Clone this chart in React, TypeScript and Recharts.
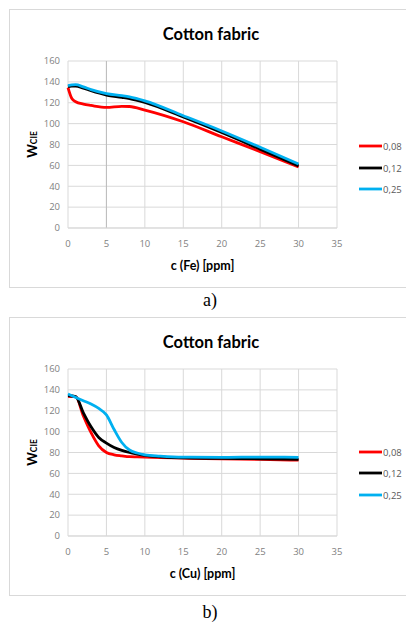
import React from 'react';
import { LineChart, Line, XAxis, YAxis, CartesianGrid, ReferenceLine, Customized } from 'recharts';

const chartTitle = 'Cotton fabric';
const xTicks = [0, 5, 10, 15, 20, 25, 30, 35];
const yTicks = [0, 20, 40, 60, 80, 100, 120, 140, 160];
const seriesNames = ['0,08', '0,12', '0,25'];
const seriesColors = ['#FF0000', '#000000', '#00B0F0'];

// a) Fe
const feX = [0, 0.5, 1, 2, 3, 5, 7, 8, 10, 15, 20, 25, 30];
const fe008 = [134.5, 124, 121, 118.7, 117.4, 115.5, 116.6, 116.4, 113, 101.8, 87.4, 73.2, 58.5];
const fe012 = [135.5, 136, 136, 134, 131.5, 127.4, 125.2, 124, 120.3, 106.4, 91.5, 75.6, 59.5];
const fe025 = [136.5, 137.2, 137.3, 135.2, 132.6, 128.8, 126.8, 125.6, 121.8, 107.6, 93, 77.4, 61.3];

// b) Cu
const cuX = [0, 1, 2, 3, 4, 5, 6, 7, 8, 9, 10, 12, 15, 20, 25, 30];
const cu008 = [133.8, 133.5, 115, 99, 86.4, 80, 77.8, 76.8, 76, 75.8, 75.6, 75.2, 74.6, 73.8, 73.4, 72.6];
const cu012 = [134.6, 133.6, 118, 104.6, 94.4, 89, 84.8, 82, 80, 78.5, 77.2, 75.8, 74.8, 74.4, 74, 73.4];
const cu025 = [136, 132.8, 129.6, 126.4, 122.2, 116, 102, 89.6, 82.4, 79.5, 77.8, 76.6, 75.6, 75.4, 75.6, 75.4];

const buildRows = (xs: number[], a: number[], b: number[], c: number[]) =>
  xs.map((x, i) => ({ x, s0: a[i], s1: b[i], s2: c[i] }));

const feRows = buildRows(feX, fe008, fe012, fe025);
const cuRows = buildRows(cuX, cu008, cu012, cu025);

const W = 396;
const H = 277;
const TOP = 51;
const RIGHT = 69;
const YAXIS_W = 38;
const LEFT = 20;
const XAXIS_H = 25;
const BOTTOM = H - 218 - XAXIS_H;

const tickStyle = { fill: '#7f7f7f', fontSize: 9.5, fontFamily: 'Open Sans, sans-serif' };

function Overlay({ xLabel, legendYs }: { xLabel: string; legendYs: number[] }) {
  const plotLeft = LEFT + YAXIS_W;
  const plotRight = W - RIGHT;
  const plotMid = (plotLeft + plotRight) / 2;
  const plotMidY = (TOP + 218) / 2;
  return (
    <g>
      <text x={201} y={24} textAnchor="middle" dominantBaseline="central"
        style={{ fontFamily: 'Lato, sans-serif', fontWeight: 700, fontSize: 16.5, fill: '#000' }}>
        {chartTitle}
      </text>
      <text x={plotMid} y={255} textAnchor="middle" dominantBaseline="central"
        style={{ fontFamily: 'Lato, sans-serif', fontWeight: 700, fontSize: 12.5, fill: '#000' }}>
        {xLabel}
      </text>
      <text transform={`translate(27, ${plotMidY}) rotate(-90)`} textAnchor="middle"
        style={{ fontFamily: 'Lato, sans-serif', fontWeight: 700, fill: '#000' }}>
        <tspan fontSize={13}>W</tspan>
        <tspan fontSize={8.5}>CIE</tspan>
      </text>
      {seriesNames.map((n, i) => (
        <g key={n}>
          <line x1={349} x2={372} y1={legendYs[i]} y2={legendYs[i]} stroke={seriesColors[i]} strokeWidth={2.8} />
          <text x={373} y={legendYs[i]} dominantBaseline="central"
            style={{ fontFamily: 'Open Sans, sans-serif', fontSize: 9.5, fill: '#595959' }}>
            {n}
          </text>
        </g>
      ))}
    </g>
  );
}

function Panel({ data, xLabel, refX, legendYs }: { data: any[]; xLabel: string; refX?: number; legendYs: number[] }) {
  return (
    <LineChart width={W} height={H} data={data} margin={{ top: TOP, right: RIGHT, bottom: BOTTOM, left: LEFT }}>
      <CartesianGrid stroke="#d9d9d9" strokeWidth={1} />
      <XAxis dataKey="x" type="number" domain={[0, 35]} ticks={xTicks} height={XAXIS_H}
        tickLine={false} axisLine={{ stroke: '#d9d9d9' }} tick={tickStyle} tickMargin={6} interval={0} />
      <YAxis type="number" domain={[0, 160]} ticks={yTicks} width={YAXIS_W}
        tickLine={false} axisLine={false} tick={tickStyle} interval={0} />
      {refX !== undefined && <ReferenceLine x={refX} stroke="#bdbdbd" strokeWidth={1} />}
      {['s0', 's1', 's2'].map((k, i) => (
        <Line key={k} dataKey={k} type="monotone" stroke={seriesColors[i]} strokeWidth={2.8}
          dot={false} isAnimationActive={false} />
      ))}
      <Customized component={() => <Overlay xLabel={xLabel} legendYs={legendYs} />} />
    </LineChart>
  );
}

const boxStyle: React.CSSProperties = {
  position: 'absolute',
  left: 9,
  width: 398,
  height: H + 2,
  border: '1px solid #d9d9d9',
  borderRight: 'none',
  boxSizing: 'border-box',
  background: '#fff',
};

const captionStyle: React.CSSProperties = {
  position: 'absolute',
  left: 0,
  width: 420,
  textAlign: 'center',
  fontFamily: '"Liberation Serif", serif',
  fontSize: 18,
  lineHeight: '20px',
  color: '#000',
};

export default function App() {
  return (
    <div style={{ position: 'relative', width: 406, height: 623, overflow: 'hidden', background: '#fff' }}>
      <style>{'html,body{margin:0;padding:0;overflow:hidden}'}</style>
      <div style={{ ...boxStyle, top: 9 }}>
        <Panel data={feRows} xLabel="c (Fe) [ppm]" refX={5} legendYs={[136, 158, 179]} />
      </div>
      <div style={{ ...captionStyle, top: 290 }}>a)</div>
      <div style={{ ...boxStyle, top: 317 }}>
        <Panel data={cuRows} xLabel="c (Cu) [ppm]" legendYs={[134, 155, 177]} />
      </div>
      <div style={{ ...captionStyle, top: 602 }}>b)</div>
    </div>
  );
}
